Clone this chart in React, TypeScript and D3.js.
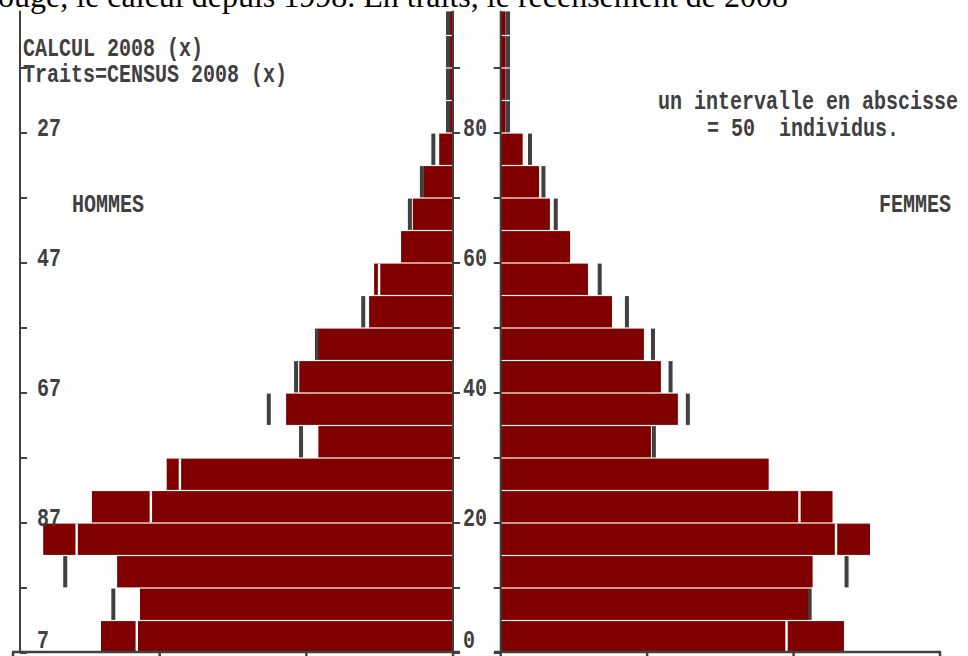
import React from 'react';
import {scaleLinear} from 'd3';

// tranches d'age de 5 ans, valeurs en individus
const ageGroups = [0,5,10,15,20,25,30,35,40,45,50,55,60,65,70,75,80,85,90,95];
const hommesCalcul = [120,106.7,114.5,139.7,123.1,97.6,45.9,56.9,52.4,45.9,28.6,26.9,17.7,13.7,9.9,4.7,1,1,1,1];
const hommesCensus = [107.8,115.8,132.2,128.3,103,93.1,51.8,62.8,53.5,46.4,30.6,25.2,17.7,14.7,10.6,6.7,1.7,1.7,1.7,1.7];
const femmesCalcul = [117.2,105,106.5,126.1,113.3,91.5,51.3,60.5,54.7,48.9,38,29.8,23.7,16.8,13.1,7.5,1.7,1.7,1.7,1.7];
const femmesCensus = [97.6,105.5,118.1,114.5,102,91.5,52.3,63.9,58,52,43.1,33.8,23.7,18.8,14.6,10,2.5,2.5,2.5,2.5];

const ageTicks = [0,10,20,30,40,50,60,70,80,90];
const labelAges = [0,20,40,60,80];
const ageLabels = ['0','20','40','60','80'];
const birthLabels = ['7','87','67','47','27'];
const valueTicks = [0,50,100,150];
const topAge = 98.8;

const RED = '#800000';
const GREY = '#404040';
const PIX = '"Liberation Mono", "DejaVu Sans Mono", monospace';

function Pix({x, y, children, size = 20}) {
    return (
        <text transform={`translate(${x},${y}) scale(1,1.28)`} fontFamily={PIX} fontWeight="bold"
              fontSize={size} fill={GREY} style={{whiteSpace: 'pre'}}>{children}</text>
    );
}

export default function App() {
    const y = scaleLinear().domain([0, 100]).range([653, 3]);
    const xL = scaleLinear().domain([0, 150]).range([453, 13]);
    const xR = scaleLinear().domain([0, 150]).range([500.7, 940]);
    const axisL = 20, axisC = 453, axisR = 500.7, bottom = 652;

    const side = (calc, cens, x, key) => ageGroups.map((a, i) => {
        const top = y(Math.min(a + 5, topAge)) + 0.6;
        const h = y(a) - top - 0.6;
        const x0 = x(0), x1 = x(calc[i]), xc = x(cens[i]);
        const inside = cens[i] < calc[i];
        return (
            <g key={key + a}>
                {cens[i] > calc[i] &&
                    <rect x={xc - 2} y={top} width={4} height={h} fill={GREY}/>}
                <rect x={Math.min(x0, x1)} y={top} width={Math.abs(x1 - x0)} height={h} fill={RED}/>
                {inside && <rect x={xc - 1.2} y={top} width={2.4} height={h} fill="#fff"/>}
            </g>
        );
    });

    return (
        <svg width={968} height={656} style={{position: 'absolute', left: 0, top: 0, background: '#fff'}}>
            <text x={788} y={7} textAnchor="end" fontFamily='"Liberation Serif", "Times New Roman", serif'
                  fontSize={32} fill="#000">En rouge, le calcul depuis 1998. En traits, le recensement de 2008</text>

            {side(hommesCalcul, hommesCensus, xL, 'h')}
            {side(femmesCalcul, femmesCensus, xR, 'f')}

            {/* axes verticaux */}
            <g stroke={GREY} strokeWidth={2}>
                <line x1={axisL} x2={axisL} y1={y(topAge)} y2={bottom}/>
                <line x1={axisC} x2={axisC} y1={y(topAge)} y2={bottom}/>
                <line x1={axisR} x2={axisR} y1={y(topAge)} y2={bottom}/>
                {ageTicks.map(t => (
                    <g key={'t' + t}>
                        <line x1={axisL} x2={axisL + 7} y1={y(t)} y2={y(t)}/>
                        <line x1={axisC} x2={axisC + 7} y1={y(t)} y2={y(t)}/>
                        <line x1={axisR - 7} x2={axisR} y1={y(t)} y2={y(t)}/>
                    </g>
                ))}
            </g>
            {/* axe horizontal */}
            <g stroke={GREY} strokeWidth={2.5}>
                <line x1={12} x2={460} y1={bottom} y2={bottom}/>
                <line x1={494} x2={941} y1={bottom} y2={bottom}/>
                {valueTicks.map(v => (
                    <g key={'v' + v}>
                        <line x1={xL(v)} x2={xL(v)} y1={bottom} y2={657}/>
                        <line x1={xR(v)} x2={xR(v)} y1={bottom} y2={657}/>
                    </g>
                ))}
            </g>

            {labelAges.map((a, i) => (
                <g key={'l' + a}>
                    <Pix x={463} y={Math.min(y(a) + 3, 648)}>{ageLabels[i]}</Pix>
                    <Pix x={37} y={Math.min(y(a) + 3, 648)}>{birthLabels[i]}</Pix>
                </g>
            ))}

            <Pix x={23} y={56}>CALCUL 2008 (x)</Pix>
            <Pix x={23} y={82}>Traits=CENSUS 2008 (x)</Pix>
            <Pix x={658} y={109}>un intervalle en abscisse</Pix>
            <Pix x={707} y={136}>{'= 50  individus.'}</Pix>
            <Pix x={72} y={212}>HOMMES</Pix>
            <Pix x={879} y={212}>FEMMES</Pix>
        </svg>
    );
}
